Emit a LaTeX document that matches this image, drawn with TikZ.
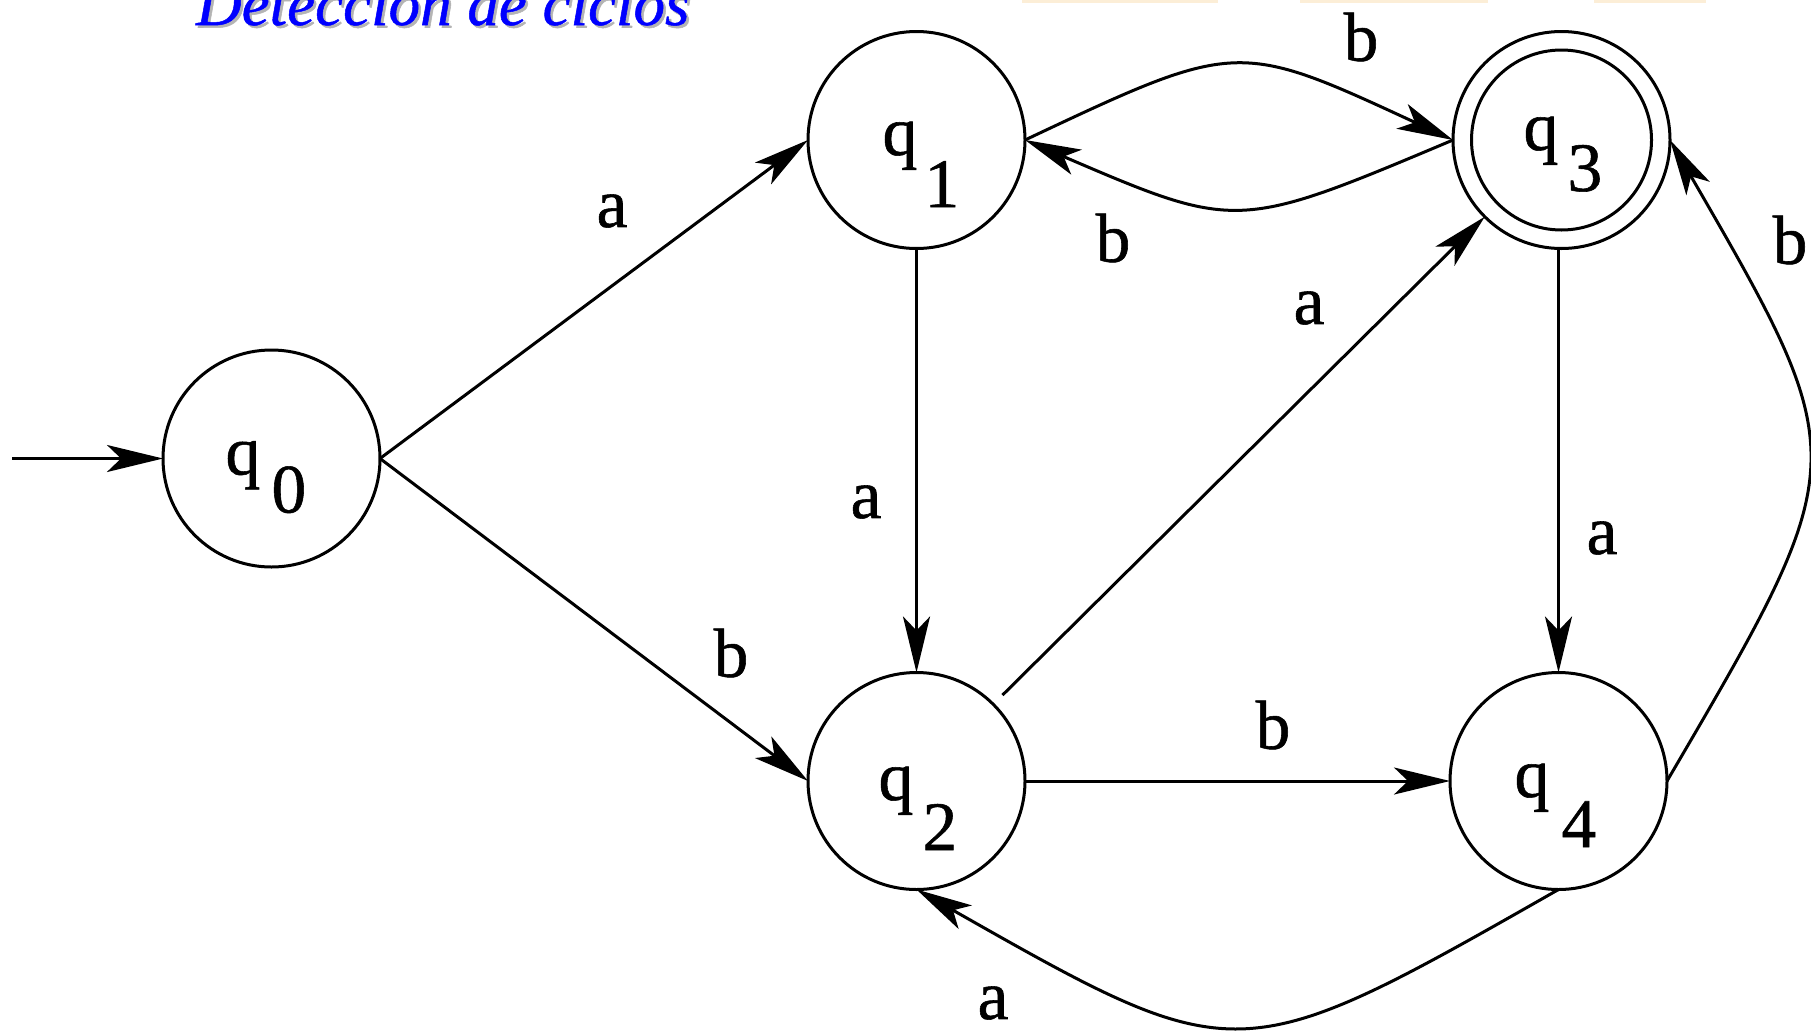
\documentclass[tikz,border=0pt]{standalone}
\usepackage{fontspec}
\usepackage{graphicx}
\setmainfont{Liberation Serif}
\newfontfamily\lblfont[FakeBold=0.8]{Liberation Serif}
\usetikzlibrary{arrows.meta}
\definecolor{titleblue}{RGB}{0,0,255}
\definecolor{titleshadow}{RGB}{180,180,180}
\definecolor{stripcol}{RGB}{252,238,215}
% q label: q x-origin, q raise, digit, digit x-origin, digit raise
\newcommand{\stlab}[5]{%
  \makebox[0pt][l]{\hspace*{#1pt}\raisebox{#2pt}[0pt][0pt]{q}}%
  \makebox[0pt][l]{\hspace*{#4pt}\raisebox{#5pt}[0pt][0pt]{#3}}}
\begin{document}
\begin{tikzpicture}[x=1pt,y=-1pt,
  state/.style={circle,draw,line width=3pt,minimum size=217pt,inner sep=0pt,outer sep=0pt,
    font=\lblfont\fontsize{69.5}{80}\selectfont},
  inner/.style={circle,draw,line width=3pt,minimum size=180pt,inner sep=0pt,outer sep=0pt},
  edge/.style={line width=3pt,-{Stealth[length=56pt,width=27pt,inset=14pt]}},
  lbl/.style={inner sep=0pt,font=\lblfont\fontsize{69.5}{80}\selectfont},
  ttl/.style={anchor=base west,inner sep=0pt,font=\lblfont\itshape\fontsize{63}{70}\selectfont}]
\useasboundingbox (0,0) rectangle (1811,1031);
\fill[white] (0,0) rectangle (1811,1031);
% faint strips at the top
\fill[stripcol] (1022,0) rectangle (1218,2.5);
\fill[stripcol] (1300,0) rectangle (1488,2.5);
\fill[stripcol] (1594,0) rectangle (1706,2.5);
% title
\node[ttl,text=titleshadow] (tshadow) at (198.5,27.5) {Detección de ciclos};
\node[ttl,text=titleblue] (title) at (196,25) {Detección de ciclos};
% states
\node[state] (q0) at (271.5,458.5) {\stlab{-46}{-16}{0}{0}{-54}};
\node[state] (q1) at (916.5,140) {\stlab{-34}{-15}{1}{8}{-67}};
\node[state] (q2) at (916.5,781) {\stlab{-38}{-19}{2}{6}{-69}};
\node[state] (q3) at (1561.5,140) {\stlab{-38}{-10}{3}{6}{-51}};
\node[inner] (q3in) at (q3) {};
\node[state] (q4) at (1558.5,781) {\stlab{-44}{-16}{4}{3}{-66}};
\coordinate (start) at (12,458.5);
% edges
\draw[edge] (start) -- (q0.west);
\draw[edge] (q0.east) -- (q1.west);
\draw[edge] (q0.east) -- (q2.west);
\draw[edge] (q1.south) -- (q2.north);
\draw[edge] (q1.east) .. controls (1237,40) .. (q3.west);
\draw[edge] (q3.west) .. controls (1237,231) .. (q1.east);
\draw[edge,shorten <=13pt] (q2.north east) -- (q3.south west);
\draw[edge] (q4.north |- q3.south) -- (q4.north);
\draw[edge] (q2.east) -- (q4.west);
\draw[edge] (q4.east) .. controls (1855,460) .. (q3.east);
\draw[edge] (q4.south) .. controls (1238,1072) .. (q2.south);
% labels
\node[lbl] (la1) at (612,211) {a};
\node[lbl] (lb1) at (731,653) {b};
\node[lbl] (la2) at (866,502) {a};
\node[lbl] (lb2) at (1361,37) {b};
\node[lbl] (lb3) at (1113,238) {b};
\node[lbl] (la3) at (1309,308) {a};
\node[lbl] (la4) at (1602,538) {a};
\node[lbl] (lb4) at (1790,240) {b};
\node[lbl] (lb5) at (1273,725) {b};
\node[lbl] (la5) at (993,1003) {a};
\end{tikzpicture}
\end{document}
